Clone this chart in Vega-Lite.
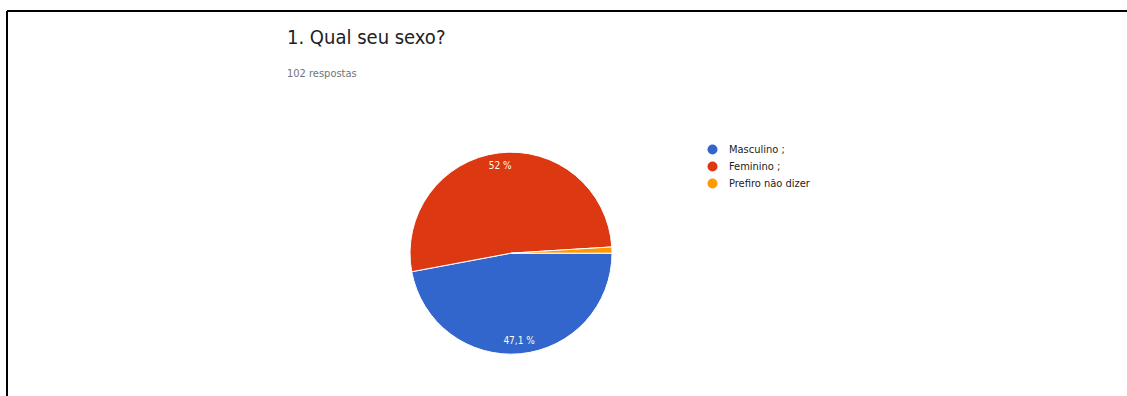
{
  "$schema": "https://vega.github.io/schema/vega-lite/v6.json",
  "width": 1126,
  "height": 385,
  "autosize": {"type": "none"},
  "padding": {"left": 7, "top": 11, "right": -6, "bottom": 0},
  "background": "white",
  "view": {"stroke": "transparent"},
  "config": {"view": {"stroke": "transparent"}, "font": "DejaVu Sans Condensed, Roboto, sans-serif"},
  "title": {
    "text": "1. Qual seu sexo?",
    "subtitle": "102 respostas",
    "anchor": "start",
    "frame": "group",
    "orient": "top",
    "dx": 280,
    "dy": 73,
    "font": "DejaVu Sans Condensed, Roboto, sans-serif",
    "fontSize": 20,
    "fontWeight": "normal",
    "color": "#202124",
    "subtitleFont": "DejaVu Sans Condensed, Roboto, sans-serif",
    "subtitleFontSize": 11,
    "subtitleColor": "#70757a",
    "subtitlePadding": 20
  },
  "data": {
    "values": [
      {"sexo": "Masculino ;", "n": 48, "ordem": 1, "rotulo": "47,1 %"},
      {"sexo": "Feminino ;", "n": 53, "ordem": 2, "rotulo": "52 %"},
      {"sexo": "Prefiro não dizer", "n": 1, "ordem": 3, "rotulo": ""}
    ]
  },
  "layer": [
    {
      "mark": {"type": "rule", "color": "black", "strokeWidth": 2},
      "encoding": {
        "x": {"datum": 1, "type": "quantitative", "scale": {"domain": [1, 2]}, "axis": null},
        "x2": {"datum": 2},
        "y": {"datum": 2, "type": "quantitative", "scale": {"domain": [1, 2]}, "axis": null}
      }
    },
    {
      "mark": {"type": "rule", "color": "black", "strokeWidth": 2},
      "encoding": {
        "x": {"datum": 1, "type": "quantitative", "scale": {"domain": [1, 2]}, "axis": null},
        "y": {"datum": 1, "type": "quantitative", "scale": {"domain": [1, 2]}, "axis": null},
        "y2": {"datum": 2}
      }
    },
    {
      "mark": {"type": "arc", "outerRadius": 101, "stroke": "white", "strokeWidth": 1},
      "encoding": {
        "theta": {"field": "n", "type": "quantitative", "stack": true, "scale": {"range": [1.5708, 7.854]}},
        "order": {"field": "ordem", "type": "quantitative"},
        "x": {"datum": 1.4476, "type": "quantitative", "scale": {"domain": [1, 2]}, "axis": null},
        "y": {"datum": 1.371, "type": "quantitative", "scale": {"domain": [1, 2]}, "axis": null},
        "color": {
          "field": "sexo",
          "type": "nominal",
          "scale": {"domain": ["Masculino ;", "Feminino ;", "Prefiro não dizer"], "range": ["#3366cc", "#dc3912", "#ff9900"]},
          "legend": {
            "title": null,
            "orient": "none",
            "legendX": 700,
            "legendY": 133,
            "symbolType": "circle",
            "symbolSize": 100,
            "symbolStrokeWidth": 0,
            "labelFont": "DejaVu Sans Condensed, Roboto, sans-serif",
            "labelFontSize": 11,
            "labelColor": "#222222",
            "labelOffset": 11,
            "rowPadding": 5
          }
        }
      }
    },
    {
      "mark": {"type": "text", "radius": 88, "fontSize": 10, "color": "#fffbe8", "font": "DejaVu Sans Condensed, Roboto, sans-serif"},
      "encoding": {
        "theta": {"field": "n", "type": "quantitative", "stack": true, "scale": {"range": [1.5708, 7.854]}},
        "order": {"field": "ordem", "type": "quantitative"},
        "x": {"datum": 1.4476, "type": "quantitative", "scale": {"domain": [1, 2]}, "axis": null},
        "y": {"datum": 1.371, "type": "quantitative", "scale": {"domain": [1, 2]}, "axis": null},
        "text": {"field": "rotulo", "type": "nominal"}
      }
    }
  ]
}
